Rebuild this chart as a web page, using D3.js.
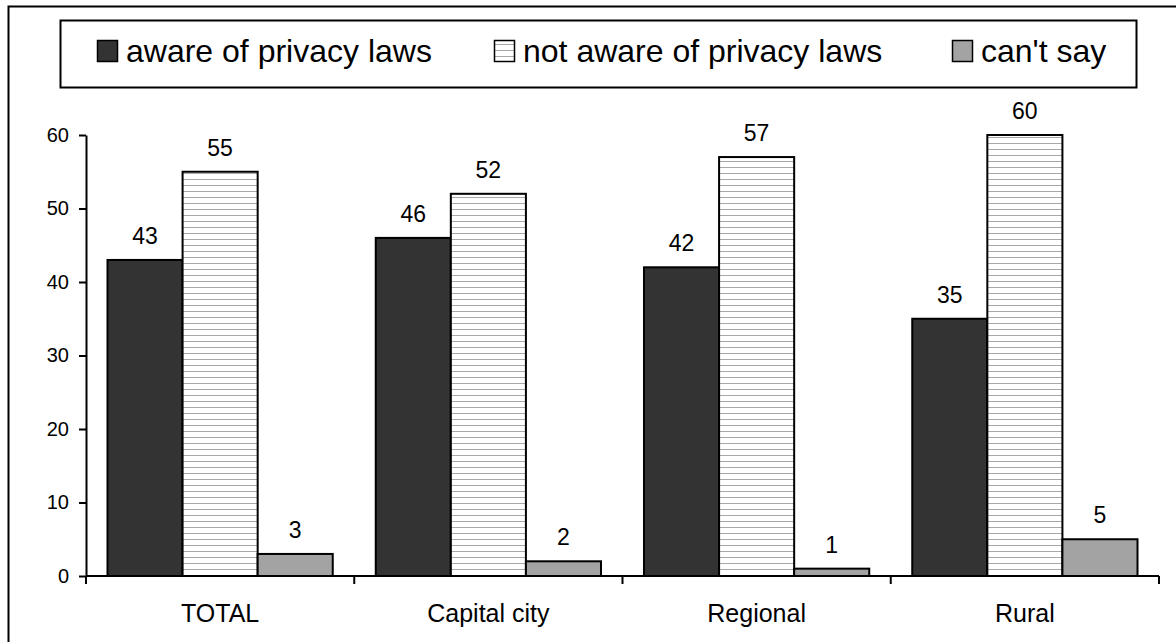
<!DOCTYPE html>
<html>
<head>
<meta charset="utf-8">
<script src="https://cdn.jsdelivr.net/npm/d3@7"></script>
<style>
  html, body { margin: 0; padding: 0; background: #fff; }
  svg { display: block; font-family: "Liberation Sans", Arial, sans-serif; }
</style>
</head>
<body>
<svg id="chart" width="1176" height="642"></svg>
<script>
// Survey: awareness of privacy laws by area
const categories = ["TOTAL", "Capital city", "Regional", "Rural"];
const seriesNames = ["aware of privacy laws", "not aware of privacy laws", "can't say"];
const aware = [43, 46, 42, 35];
const notAware = [55, 52, 57, 60];
const cantSay = [3, 2, 1, 5];
const yTicks = [0, 10, 20, 30, 40, 50, 60];

const seriesValues = [aware, notAware, cantSay];
const rows = categories.map((c, i) => ({
  category: c,
  values: seriesNames.map((s, k) => ({ key: s, value: seriesValues[k][i] }))
}));

const svg = d3.select("#chart");
const W = 1176, H = 642;
const margin = { left: 86, right: 17, top: 135, bottom: 66 };
const plotW = W - margin.left - margin.right;
const plotH = H - margin.top - margin.bottom;

// hatch pattern for the "not aware" series
const defs = svg.append("defs");
const pat = defs.append("pattern")
  .attr("id", "hatch")
  .attr("patternUnits", "userSpaceOnUse")
  .attr("width", 8).attr("height", 6);
pat.append("rect").attr("width", 8).attr("height", 6).attr("fill", "#fff");
pat.append("line")
  .attr("x1", 0).attr("x2", 8).attr("y1", 2.5).attr("y2", 2.5)
  .attr("stroke", "#a8a8a8").attr("stroke-width", 1);

const fills = d3.scaleOrdinal()
  .domain(seriesNames)
  .range(["#333333", "url(#hatch)", "#a3a3a3"]);

// outer frame
svg.append("rect")
  .attr("x", 8.5).attr("y", 6.5)
  .attr("width", 1200).attr("height", 700)
  .attr("fill", "none").attr("stroke", "#000").attr("stroke-width", 2);

// legend
const legend = svg.append("g");
legend.append("rect")
  .attr("x", 60.5).attr("y", 20.5)
  .attr("width", 1076).attr("height", 67)
  .attr("fill", "#fff").attr("stroke", "#000").attr("stroke-width", 2);
const legendX = [97, 494, 952];
seriesNames.forEach((s, i) => {
  const g = legend.append("g").attr("transform", `translate(${legendX[i]},0)`);
  g.append("rect")
    .attr("x", 0.5).attr("y", 40.5).attr("width", 20).attr("height", 21)
    .attr("fill", fills(s)).attr("stroke", "#000").attr("stroke-width", 1.5);
  g.append("text")
    .attr("x", 29).attr("y", 62)
    .attr("font-size", 32)
    .attr("fill", "#000")
    .text(s);
});

const plot = svg.append("g").attr("transform", `translate(${margin.left},${margin.top})`);

const x0 = d3.scaleBand().domain(categories).range([0, plotW]).padding(0);
const groupPad = 21.5;
const x1 = d3.scaleBand().domain(seriesNames)
  .range([groupPad, x0.bandwidth() - groupPad]).padding(0);
const y = d3.scaleLinear().domain([0, 60]).range([plotH, 0]);

// bars
const groups = plot.selectAll("g.cat")
  .data(rows).join("g")
  .attr("class", "cat")
  .attr("transform", d => `translate(${x0(d.category)},0)`);

groups.selectAll("rect")
  .data(d => d.values).join("rect")
  .attr("x", d => x1(d.key))
  .attr("y", d => y(d.value))
  .attr("width", x1.bandwidth())
  .attr("height", d => y(0) - y(d.value))
  .attr("fill", d => fills(d.key))
  .attr("stroke", "#000")
  .attr("stroke-width", 2);

groups.selectAll("text.val")
  .data(d => d.values).join("text")
  .attr("class", "val")
  .attr("x", d => x1(d.key) + x1.bandwidth() / 2)
  .attr("y", d => y(d.value) - 16)
  .attr("text-anchor", "middle")
  .attr("font-size", 23)
  .text(d => d.value);

// y axis
const yAxis = d3.axisLeft(y).tickValues(yTicks).tickSize(7).tickSizeOuter(0).tickPadding(10);
const ya = plot.append("g").call(yAxis);
ya.select(".domain").attr("stroke-width", 2);
ya.selectAll(".tick line").attr("stroke-width", 2);
ya.selectAll(".tick text").attr("font-size", 20).attr("fill", "#000")
  .attr("font-family", "Liberation Sans, Arial, sans-serif");

// x axis with ticks at category boundaries
const xa = plot.append("g").attr("transform", `translate(0,${plotH})`);
xa.append("line").attr("x1", 0).attr("x2", plotW).attr("stroke", "#000").attr("stroke-width", 2);
const bounds = categories.map(c => x0(c)).concat([plotW]);
xa.selectAll("line.tk").data(bounds).join("line")
  .attr("class", "tk")
  .attr("x1", d => d).attr("x2", d => d)
  .attr("y1", 0).attr("y2", 8)
  .attr("stroke", "#000").attr("stroke-width", 2);
xa.selectAll("text").data(categories).join("text")
  .attr("x", d => x0(d) + x0.bandwidth() / 2)
  .attr("y", 46)
  .attr("text-anchor", "middle")
  .attr("font-size", 25)
  .text(d => d);
</script>
</body>
</html>
